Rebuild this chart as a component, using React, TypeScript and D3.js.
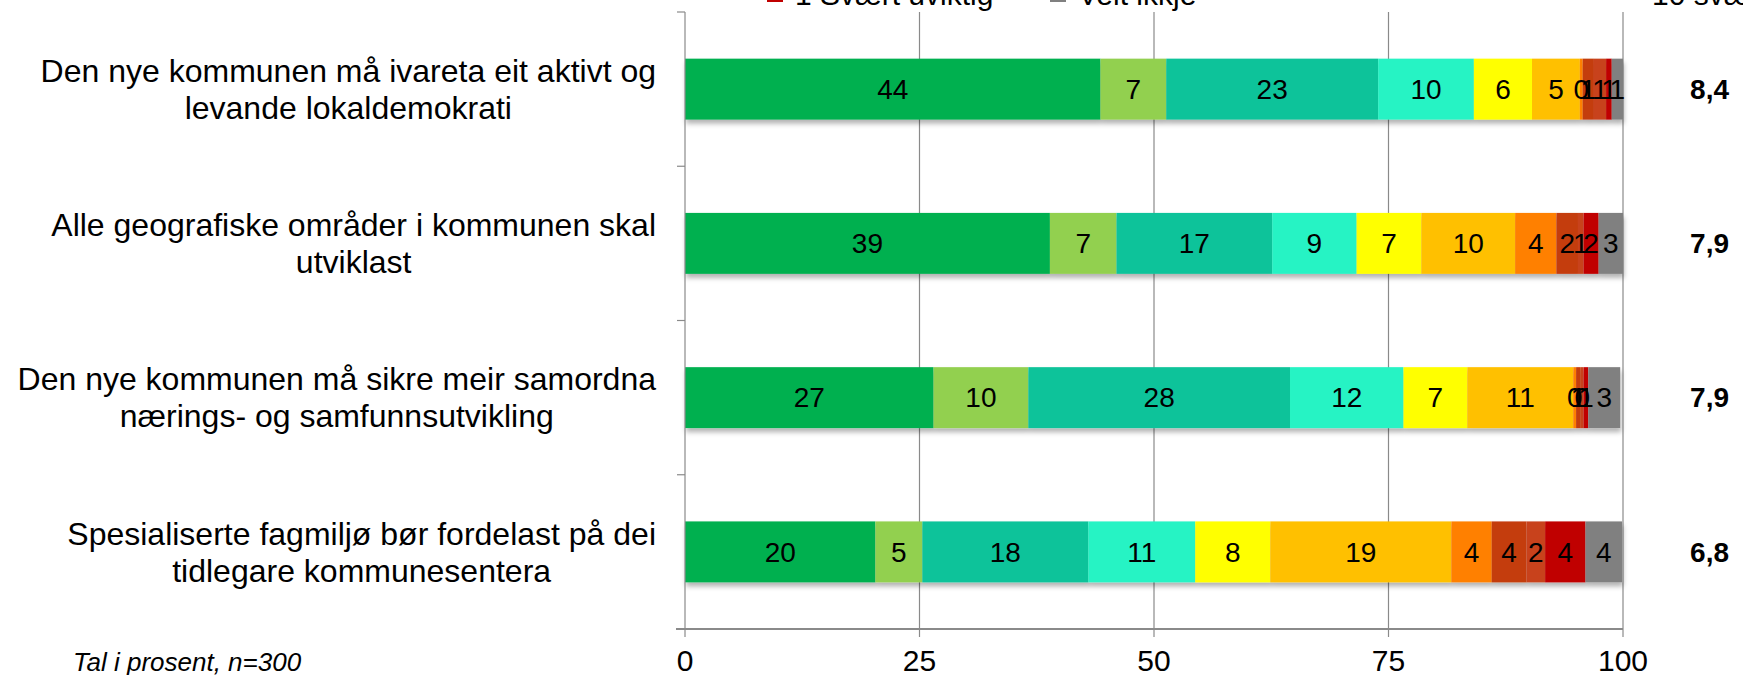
import React, { useEffect, useRef } from "react";
import * as d3 from "d3";

const categories = [
  ["Den nye kommunen må ivareta eit aktivt og", "levande lokaldemokrati"],
  ["Alle geografiske områder i kommunen skal", "utviklast"],
  ["Den nye kommunen må sikre meir samordna", "nærings- og samfunnsutvikling"],
  ["Spesialiserte fagmiljø bør fordelast på dei", "tidlegare kommunesentera"],
];

const seriesNames = [
  "10 Svært viktig", "9", "8", "7", "6", "5", "4", "3", "2", "1 Svært uviktig", "Veit ikkje",
];

const seriesColors = [
  "#00B050", "#92D050", "#10C39A", "#28F3C4", "#FFFF00", "#FFC000",
  "#FF8000", "#C43C0F", "#C8431B", "#C00000", "#808080",
];

// values per category, in series order
const row1 = [44.3, 7.0, 22.6, 10.2, 6.2, 5.1, 0.3, 1.2, 1.3, 0.6, 1.2];
const row2 = [38.9, 7.1, 16.6, 9.0, 6.9, 10.0, 4.4, 2.3, 0.6, 1.6, 2.6];
const row3 = [26.5, 10.1, 27.9, 12.1, 6.8, 11.3, 0.3, 0.5, 0.3, 0.5, 3.4];
const row4 = [20.3, 5.0, 17.7, 11.4, 8.0, 19.3, 4.3, 3.7, 2.0, 4.3, 3.9];
const rows = [row1, row2, row3, row4];

const averages = ["8,4", "7,9", "7,9", "6,8"];
const xTicks = [0, 25, 50, 75, 100];
const legendShown = ["1 Svært uviktig", "Veit ikkje"];
const rightHeader = "10 svært";
const footnote = "Tal i prosent, n=300";

const W = 1743;
const H = 675;
const FONT = "Arial, 'Liberation Sans', sans-serif";

export default function App() {
  const ref = useRef<SVGSVGElement | null>(null);

  useEffect(() => {
    document.body.style.margin = "0";
    const svg = d3.select(ref.current);
    svg.selectAll("*").remove();

    const x = d3.scaleLinear().domain([0, 100]).range([685, 1623]);
    const y = d3
      .scaleBand<number>()
      .domain(d3.range(categories.length))
      .range([12, 629])
      .paddingInner(0.605)
      .paddingOuter(0.3025);
    const band = (y.range()[1] - y.range()[0]) / categories.length;

    const defs = svg.append("defs");
    const f = defs
      .append("filter")
      .attr("id", "shadow")
      .attr("x", "-5%")
      .attr("y", "-20%")
      .attr("width", "110%")
      .attr("height", "160%");
    f.append("feDropShadow")
      .attr("dx", 1)
      .attr("dy", 4)
      .attr("stdDeviation", 2.5)
      .attr("flood-color", "#000")
      .attr("flood-opacity", 0.3);

    const axisColor = "#8a8a8a";

    // gridlines
    svg
      .append("g")
      .selectAll("line")
      .data(xTicks.slice(1))
      .join("line")
      .attr("x1", (d) => x(d))
      .attr("x2", (d) => x(d))
      .attr("y1", 12)
      .attr("y2", 629)
      .attr("stroke", axisColor)
      .attr("stroke-width", 1.2);

    // bars
    rows.forEach((vals, i) => {
      const stack: { x0: number; x1: number; v: number; c: string }[] = [];
      let acc = 0;
      vals.forEach((v, j) => {
        stack.push({ x0: acc, x1: acc + v, v, c: seriesColors[j] });
        acc += v;
      });
      const g = svg.append("g");
      const bg = g.append("g").attr("filter", "url(#shadow)");
      bg.selectAll("rect")
        .data(stack)
        .join("rect")
        .attr("x", (d) => x(d.x0))
        .attr("width", (d) => Math.max(0, x(d.x1) - x(d.x0)))
        .attr("y", y(i)!)
        .attr("height", y.bandwidth())
        .attr("fill", (d) => d.c);
      g.selectAll("text")
        .data(stack)
        .join("text")
        .attr("x", (d) => (x(d.x0) + x(d.x1)) / 2)
        .attr("y", y(i)! + y.bandwidth() / 2)
        .attr("dy", "0.35em")
        .attr("text-anchor", "middle")
        .attr("font-family", FONT)
        .attr("font-size", 28)
        .attr("fill", "#000")
        .text((d) => String(Math.round(d.v)));

      // average
      svg
        .append("text")
        .attr("x", 1729)
        .attr("y", y(i)! + y.bandwidth() / 2)
        .attr("dy", "0.35em")
        .attr("text-anchor", "end")
        .attr("font-family", FONT)
        .attr("font-weight", "bold")
        .attr("font-size", 28)
        .text(averages[i]);
    });

    // axes
    svg
      .append("line")
      .attr("x1", 685)
      .attr("x2", 685)
      .attr("y1", 12)
      .attr("y2", 629)
      .attr("stroke", axisColor)
      .attr("stroke-width", 1.2);
    svg
      .append("line")
      .attr("x1", 676)
      .attr("x2", 1623)
      .attr("y1", 629)
      .attr("y2", 629)
      .attr("stroke", axisColor)
      .attr("stroke-width", 2);
    svg
      .append("g")
      .selectAll("line")
      .data(d3.range(categories.length + 1))
      .join("line")
      .attr("x1", 677)
      .attr("x2", 685)
      .attr("y1", (d) => 12 + d * band)
      .attr("y2", (d) => 12 + d * band)
      .attr("stroke", axisColor)
      .attr("stroke-width", 1.2);
    svg
      .append("g")
      .selectAll("line")
      .data(xTicks)
      .join("line")
      .attr("x1", (d) => x(d))
      .attr("x2", (d) => x(d))
      .attr("y1", 629)
      .attr("y2", 637)
      .attr("stroke", axisColor)
      .attr("stroke-width", 1.2);
    svg
      .append("g")
      .selectAll("text")
      .data(xTicks)
      .join("text")
      .attr("x", (d) => x(d))
      .attr("y", 671)
      .attr("text-anchor", "middle")
      .attr("font-family", FONT)
      .attr("font-size", 30)
      .text((d) => String(d));

    // category labels: block right-aligned, lines centered
    categories.forEach((lines, i) => {
      const cy = y(i)! + y.bandwidth() / 2;
      const tg = svg.append("g");
      const texts = lines.map((l, k) =>
        tg
          .append("text")
          .attr("y", cy + (k - (lines.length - 1) / 2) * 37)
          .attr("dy", "0.35em")
          .attr("text-anchor", "middle")
          .attr("font-family", FONT)
          .attr("font-size", 32)
          .text(l)
      );
      const widths = texts.map((t) => (t.node() as SVGTextElement).getComputedTextLength());
      const maxW = Math.max(...widths);
      const cx = 656 - maxW / 2;
      texts.forEach((t) => t.attr("x", cx));
    });

    // legend (partially cut at top)
    const legX = [767, 1050];
    legendShown.forEach((name, k) => {
      const idx = seriesNames.indexOf(name);
      svg
        .append("rect")
        .attr("x", legX[k])
        .attr("y", -14)
        .attr("width", 16)
        .attr("height", 16)
        .attr("fill", seriesColors[idx]);
      svg
        .append("text")
        .attr("x", legX[k] + 28)
        .attr("y", 5)
        .attr("font-family", FONT)
        .attr("font-size", 30)
        .text(name);
    });
    svg
      .append("text")
      .attr("x", 1652)
      .attr("y", 5)
      .attr("font-family", FONT)
      .attr("font-size", 30)
      .text(rightHeader);

    // footnote
    svg
      .append("text")
      .attr("x", 73)
      .attr("y", 671)
      .attr("font-family", FONT)
      .attr("font-style", "italic")
      .attr("font-size", 26)
      .text(footnote);
  }, []);

  return (
    <svg
      ref={ref}
      width={W}
      height={H}
      style={{ position: "absolute", left: 0, top: 0, background: "#fff" }}
    />
  );
}
